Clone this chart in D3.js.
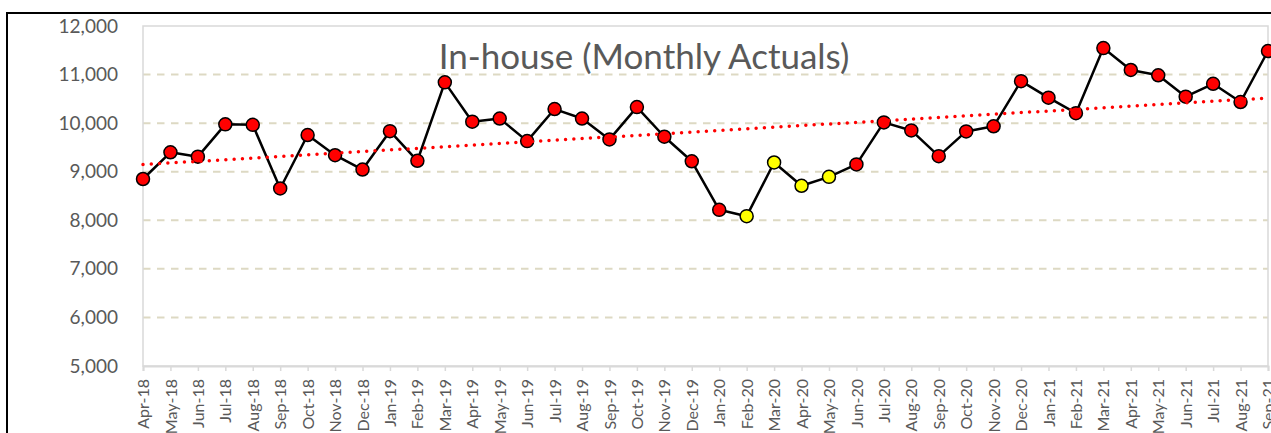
<!DOCTYPE html>
<html>
<head>
<meta charset="utf-8">
<script src="https://cdn.jsdelivr.net/npm/d3@7"></script>
<style>
    body { margin: 0; background: #fff; }
    #chart-container { width: 1271px; height: 433px; }
</style>
</head>
<body>
<div id="chart-container"></div>
<script>
// In-house monthly actuals
const months = [
    'Apr-18', 'May-18', 'Jun-18', 'Jul-18', 'Aug-18', 'Sep-18', 'Oct-18', 'Nov-18', 'Dec-18',
    'Jan-19', 'Feb-19', 'Mar-19', 'Apr-19', 'May-19', 'Jun-19', 'Jul-19', 'Aug-19', 'Sep-19', 'Oct-19', 'Nov-19', 'Dec-19',
    'Jan-20', 'Feb-20', 'Mar-20', 'Apr-20', 'May-20', 'Jun-20', 'Jul-20', 'Aug-20', 'Sep-20', 'Oct-20', 'Nov-20', 'Dec-20',
    'Jan-21', 'Feb-21', 'Mar-21', 'Apr-21', 'May-21', 'Jun-21', 'Jul-21', 'Aug-21', 'Sep-21'
];
const actuals = [
    8850, 9400, 9310, 9975, 9965, 8655, 9755, 9340, 9045,
    9835, 9225, 10840, 10030, 10095, 9630, 10290, 10095, 9665, 10330, 9720, 9215,
    8215, 8085, 9190, 8710, 8895, 9150, 10015, 9850, 9320, 9830, 9935, 10865,
    10525, 10205, 11545, 11095, 10985, 10545, 10810, 10435, 11485
];
// months drawn with yellow markers
const highlighted = ['Feb-20', 'Mar-20', 'Apr-20', 'May-20'];
const yTicks = [5000, 6000, 7000, 8000, 9000, 10000, 11000, 12000];
const title = 'In-house (Monthly Actuals)';

const width = 1271;
const height = 433;
const margin = { left: 143, right: 3, top: 26, bottom: 67 };
const font = 'Lato, "Open Sans", sans-serif';

const svg = d3.select('#chart-container')
    .append('svg')
    .attr('width', width)
    .attr('height', height);

// outer chart frame (runs off the page right and bottom)
svg.append('rect')
    .attr('x', 7)
    .attr('y', 13)
    .attr('width', 1300)
    .attr('height', 500)
    .attr('fill', '#fff')
    .attr('stroke', '#000')
    .attr('stroke-width', 2);

const x = d3.scalePoint()
    .domain(months)
    .range([margin.left, width - margin.right]);

const y = d3.scaleLinear()
    .domain([d3.min(yTicks), d3.max(yTicks)])
    .range([height - margin.bottom, margin.top]);

// gridlines
svg.append('g')
    .selectAll('line')
    .data(yTicks.slice(1, -1))
    .enter()
    .append('line')
    .attr('x1', margin.left)
    .attr('x2', width - margin.right)
    .attr('y1', d => y(d))
    .attr('y2', d => y(d))
    .attr('stroke', '#ddd9c3')
    .attr('stroke-width', 2)
    .attr('stroke-dasharray', '7.5,6.5');

// plot area border
svg.append('rect')
    .attr('x', margin.left)
    .attr('y', margin.top)
    .attr('width', width - margin.right - margin.left)
    .attr('height', height - margin.bottom - margin.top)
    .attr('fill', 'none')
    .attr('stroke', '#d9d9d9')
    .attr('stroke-width', 1.5);

// y axis labels
const yAxis = svg.append('g')
    .attr('transform', `translate(${margin.left},0)`)
    .call(d3.axisLeft(y).tickValues(yTicks).tickSize(0).tickPadding(25).tickFormat(d3.format(',')));
yAxis.select('.domain').remove();
yAxis.selectAll('text')
    .attr('font-family', font)
    .attr('font-size', '19px')
    .attr('fill', '#595959');

// x axis
const xAxis = svg.append('g')
    .attr('transform', `translate(0,${height - margin.bottom})`)
    .call(d3.axisBottom(x).tickSize(5).tickPadding(0));
xAxis.select('.domain')
    .attr('stroke', '#d9d9d9')
    .attr('stroke-width', 2);
xAxis.selectAll('.tick line')
    .attr('stroke', '#d9d9d9')
    .attr('stroke-width', 1.5);
xAxis.selectAll('text')
    .attr('font-family', font)
    .attr('font-size', '16px')
    .attr('fill', '#595959')
    .attr('text-anchor', 'end')
    .attr('dy', '0.35em')
    .attr('transform', 'translate(0,13) rotate(-90)')
    .attr('x', 0)
    .attr('y', 0);

// title
svg.append('text')
    .attr('x', 644)
    .attr('y', 69)
    .attr('text-anchor', 'middle')
    .attr('font-family', font)
    .attr('font-size', '35px')
    .attr('fill', '#595959')
    .text(title);

const data = months.map((m, i) => ({ month: m, index: i, value: actuals[i] }));

// series line
const line = d3.line()
    .x(d => x(d.month))
    .y(d => y(d.value));

svg.append('path')
    .datum(data)
    .attr('d', line)
    .attr('fill', 'none')
    .attr('stroke', '#000')
    .attr('stroke-width', 2.5)
    .attr('stroke-linejoin', 'round');

// markers
svg.append('g')
    .selectAll('circle')
    .data(data)
    .enter()
    .append('circle')
    .attr('cx', d => x(d.month))
    .attr('cy', d => y(d.value))
    .attr('r', 6.5)
    .attr('fill', d => highlighted.includes(d.month) ? '#ffff00' : '#ff0000')
    .attr('stroke', '#000')
    .attr('stroke-width', 1.5);

// linear trendline (least squares)
const n = data.length;
const meanX = d3.mean(data, d => d.index);
const meanY = d3.mean(data, d => d.value);
const slope = d3.sum(data, d => (d.index - meanX) * (d.value - meanY)) /
    d3.sum(data, d => (d.index - meanX) * (d.index - meanX));
const intercept = meanY - slope * meanX;
const trend = [data[0], data[n - 1]].map(d => ({ month: d.month, value: intercept + slope * d.index }));

svg.append('path')
    .datum(trend)
    .attr('d', line)
    .attr('fill', 'none')
    .attr('stroke', '#ff0000')
    .attr('stroke-width', 3.5)
    .attr('stroke-linecap', 'round')
    .attr('stroke-dasharray', '0,8.3');
</script>
</body>
</html>
